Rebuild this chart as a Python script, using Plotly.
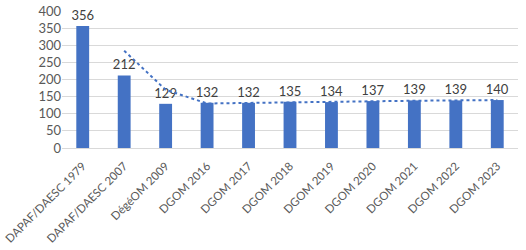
import plotly.graph_objects as go

categories = ["DAPAF/DAESC 1979", "DAPAF/DAESC 2007", "DégéOM 2009", "DGOM 2016", "DGOM 2017",
              "DGOM 2018", "DGOM 2019", "DGOM 2020", "DGOM 2021", "DGOM 2022", "DGOM 2023"]
values = [356, 212, 129, 132, 132, 135, 134, 137, 139, 139, 140]
trend_categories = categories[1:]
trend_values = [284, 170, 130, 132, 134, 134, 136, 138, 139, 140]
y_ticks = [0, 50, 100, 150, 200, 250, 300, 350, 400]

FONT = "Lato"
fig = go.Figure()
fig.add_trace(go.Bar(
    x=categories, y=values, marker=dict(color="#4472C4", line=dict(width=0)),
    text=[str(v) for v in values], textposition="outside", constraintext="none",
    textfont=dict(family=FONT, size=13, color="#404040"), cliponaxis=False,
))
fig.add_trace(go.Scatter(
    x=trend_categories, y=trend_values, mode="lines",
    line=dict(color="#4472C4", width=2, dash="dot"), cliponaxis=False,
))
fig.update_layout(
    width=526, height=250, margin=dict(l=62, r=8, t=11, b=102, autoexpand=False),
    paper_bgcolor="white", plot_bgcolor="white", showlegend=False, bargap=0.69,
    font=dict(family=FONT, size=12, color="#595959"),
    xaxis=dict(tickangle=-45, showgrid=False, showline=True, linecolor="#d9d9d9",
               ticks="", automargin=False, ticklabelstandoff=6,
               tickfont=dict(family=FONT, size=11.5, color="#595959")),
    yaxis=dict(range=[0, 400], tickvals=y_ticks, showgrid=True, gridcolor="#d9d9d9",
               zeroline=False, showline=False, ticks="", automargin=False,
               tickfont=dict(family=FONT, size=13, color="#595959")),
)
fig.write_html("out.html")
